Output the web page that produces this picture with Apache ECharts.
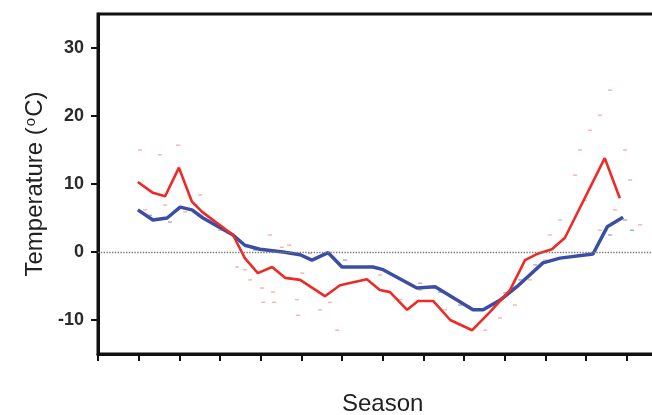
<!DOCTYPE html>
<html>
<head>
<meta charset="utf-8">
<script src="https://cdn.jsdelivr.net/npm/echarts@6/dist/echarts.min.js"></script>
<style>html,body{margin:0;padding:0;background:#fff}#c{width:652px;height:415px}</style>
</head>
<body>
<div id="c"></div>
<script>
// Season position (tick units) and temperature (°C)
var redLine = [[0.98,10.3],[1.35,8.7],[1.65,8.2],[1.99,12.4],[2.31,7.4],[2.56,5.9],[3.32,2.5],[3.61,-0.9],[3.93,-3.1],[4.28,-2.2],[4.60,-3.8],[4.97,-4.1],[5.58,-6.5],[5.95,-4.9],[6.61,-4.0],[6.93,-5.6],[7.18,-5.9],[7.60,-8.5],[7.87,-7.2],[8.24,-7.2],[8.66,-10.0],[9.20,-11.5],[9.64,-8.8],[10.13,-5.6],[10.50,-1.2],[10.79,-0.3],[11.16,0.4],[11.48,2.1],[12.46,13.8],[12.83,7.9]];
var blueLine = [[0.98,6.2],[1.35,4.7],[1.70,5.0],[2.02,6.6],[2.31,6.2],[2.58,5.0],[3.32,2.5],[3.61,1.0],[3.98,0.4],[4.55,0.0],[4.97,-0.4],[5.26,-1.2],[5.66,-0.1],[6.00,-2.2],[6.76,-2.2],[7.01,-2.6],[7.84,-5.3],[8.29,-5.1],[9.22,-8.5],[9.47,-8.5],[9.88,-7.1],[10.30,-5.1],[10.94,-1.6],[11.36,-0.9],[12.17,-0.3],[12.52,3.7],[12.91,5.1]];
var redDots = [[3.42,-2.2],[3.61,-2.6],[3.74,-4.1],[4.03,-5.3],[4.06,-7.4],[4.30,-5.9],[4.33,-7.4],[4.52,0.7],[4.70,1.0],[4.89,-7.0],[4.92,-9.3],[5.02,-3.1],[5.46,-8.5],[5.70,-7.4],[5.88,-11.5],[5.21,-0.2],[4.23,2.5],[1.03,15],[1.52,14.3],[1.97,15.7],[1.16,6.2],[1.65,6.9],[2.14,5.9],[2.51,8.4],[2.75,4.7],[3.0,3.2],[12.59,23.8],[12.34,20.1],[12.10,17.9],[11.85,15],[12.96,15],[13.08,10.6],[11.73,11.3],[11.97,7.6],[11.36,4.7],[11.11,2.5],[12.34,3.2],[12.71,6.2],[13.33,4.0],[6.93,-3.4],[7.43,-7.0],[7.92,-5.6],[8.53,-8.5],[8.90,-10.7],[9.52,-11.5],[9.88,-9.7],[10.25,-7.8],[10.62,-4.1],[10.99,-1.2]];
var blueDots = [[1.28,5.4],[1.77,4.4],[2.39,6.9],[3.86,0.3],[6.07,-1.2],[7.92,-4.6],[8.41,-5.9],[8.90,-7.8],[10.01,-6.0],[10.38,-4.1],[10.75,-1.9],[12.59,2.5],[12.96,4.7],[13.13,3.2]];
var yTicks = [-10, 0, 10, 20, 30];
var xTicks = [0,1,2,3,4,5,6,7,8,9,10,11,12,13];

var FONT = 'Liberation Sans, Arial, sans-serif';
var chart = echarts.init(document.getElementById('c'), null, {renderer: 'canvas'});
chart.setOption({
  animation: false,
  backgroundColor: '#fff',
  grid: {left: 98, top: 14, width: 569.4, height: 340, outerBoundsMode: 'none', containLabel: false,
    show: true, borderColor: '#111', borderWidth: 3, backgroundColor: 'transparent'},
  xAxis: {
    type: 'value', min: 0, max: 14, interval: 1,
    name: 'Season', nameLocation: 'middle', nameGap: 38,
    nameTextStyle: {fontSize: 24, color: '#222', fontFamily: FONT},
    axisLine: {show: true, onZero: false, lineStyle: {color: '#111', width: 3}},
    axisTick: {show: true, length: 7, lineStyle: {color: '#111', width: 2}, customValues: xTicks},
    axisLabel: {show: false},
    splitLine: {show: false}
  },
  yAxis: {
    type: 'value', min: -15, max: 35, interval: 5,
    name: '{a|Temperature (}{s|o}{a|C)}', nameLocation: 'middle', nameGap: 39,
    nameTextStyle: {fontSize: 24, color: '#222', fontFamily: FONT,
      rich: {a: {fontSize: 24, color: '#222', fontFamily: FONT},
             s: {fontSize: 15, color: '#222', fontFamily: FONT, verticalAlign: 'top', padding: [0, 1, 8, 1]}}},
    axisLine: {show: true, lineStyle: {color: '#111', width: 3}},
    axisTick: {show: true, length: 7, lineStyle: {color: '#111', width: 2}, customValues: yTicks},
    axisLabel: {show: true, margin: 14, fontSize: 18, fontWeight: 'bold', color: '#2a2a2a', fontFamily: FONT, customValues: yTicks},
    splitLine: {show: false}
  },
  series: [
    {type: 'scatter', data: redDots, symbol: 'rect', symbolSize: [4, 1.5], itemStyle: {color: '#f07a6e', opacity: 0.55}, silent: true, z: 1},
    {type: 'scatter', data: blueDots, symbol: 'rect', symbolSize: [4, 1.5], itemStyle: {color: '#6a7ac0', opacity: 0.6}, silent: true, z: 1},
    {type: 'line', data: blueLine, showSymbol: false, symbol: 'none', lineStyle: {color: '#3b4ea3', width: 3.5}, z: 3,
      markLine: {silent: true, symbol: ['none', 'none'], label: {show: false}, lineStyle: {type: 'dotted', color: '#7a7a7a', width: 1.4}, data: [{yAxis: 0}]}},
    {type: 'line', data: redLine, showSymbol: false, symbol: 'none', lineStyle: {color: '#ee2a26', width: 2.6}, z: 4}
  ]
});
</script>
</body>
</html>
